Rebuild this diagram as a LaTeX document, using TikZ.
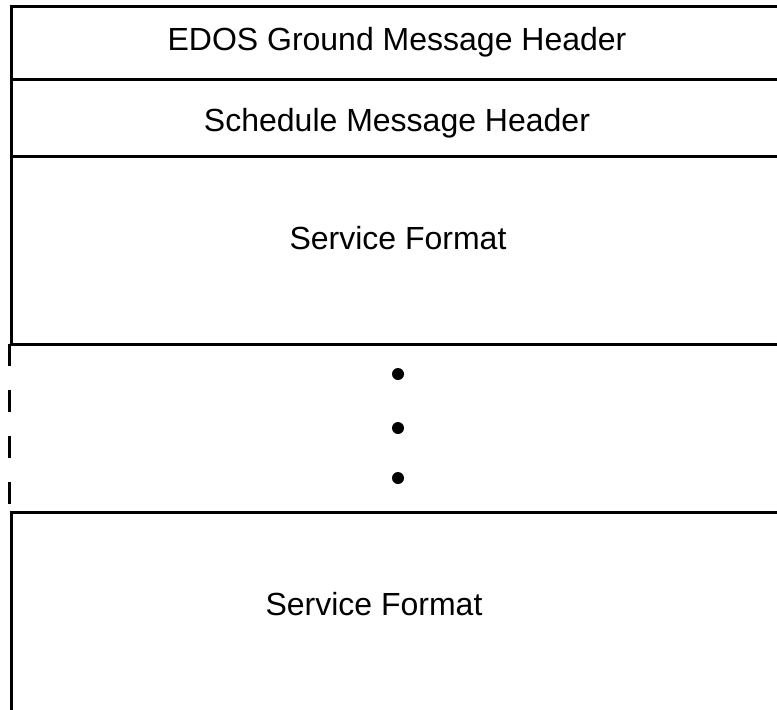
\documentclass[tikz,border=0pt]{standalone}
\usepackage{fontspec}
\setmainfont{Liberation Sans}
\usetikzlibrary{positioning}

\begin{document}
\begin{tikzpicture}[x=1pt,y=-1pt,line width=3pt,
    field/.style={anchor=base,inner sep=0pt,font=\fontsize{32}{38}\selectfont},
    dot/.style={circle,fill=black,inner sep=0pt,minimum size=12pt}]
                \useasboundingbox (0,0) rectangle (777,710);
                % separators
                \foreach \y in {6,79,156,344,512}
                    \draw (9.5,\y) -- (777,\y);
                \draw (11,6) -- (11,344);
                \draw[dash pattern=on 22pt off 24pt] (9,344) -- (9,507);
                \draw (11,512) -- (11,710);
                % fields
                \node[field](ground)at(397, 50){EDOS Ground Message Header};
                \node[field](sched)at(397, 131){Schedule Message Header};
                \node[field](svc1)at(398, 249){Service Format};
                \node[field](svc2)at(374, 615){Service Format};
                \node[dot](d1)at(398, 374){};
                \node[dot](d2)at(398, 428){};
                \node[dot](d3)at(398, 478){};
\end{tikzpicture}
\end{document}
